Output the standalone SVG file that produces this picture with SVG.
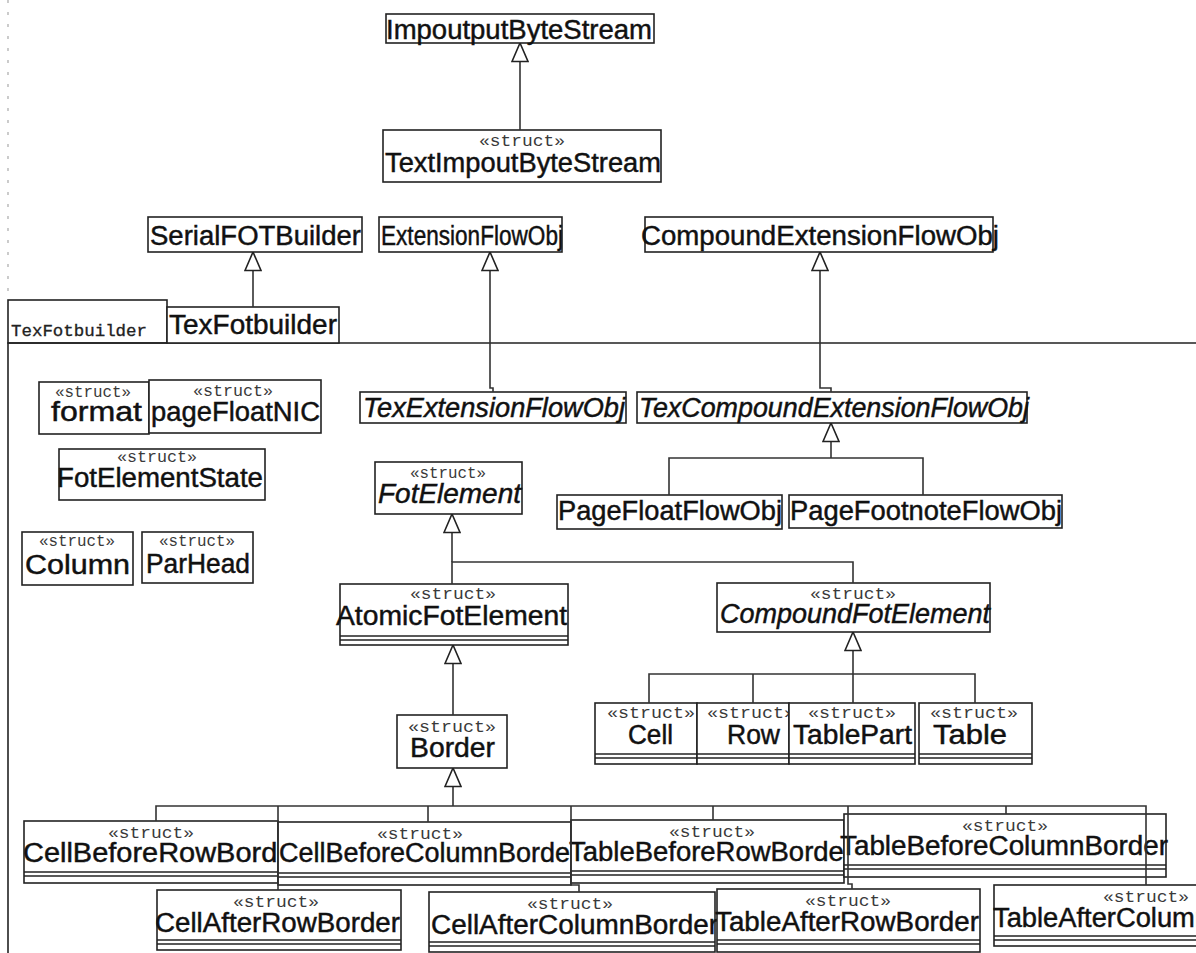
<svg xmlns="http://www.w3.org/2000/svg" width="1196" height="953" viewBox="0 0 1196 953">
  <style>
    .box { fill: #fff; stroke: #222; stroke-width: 1.6; }
    .cmp { stroke: #222; stroke-width: 1.6; }
    .nm { font-family: "Liberation Sans", Arial, sans-serif; font-size: 27px; fill: #111; stroke: #111; stroke-width: 0.45; }
    .it { font-style: italic; }
    .st { font-family: "Liberation Mono", "Courier New", monospace; font-size: 16px; fill: #3a3a3a; text-anchor: middle; }
    .pkg { fill: none; stroke: #222; stroke-width: 1.6; }
    .pkgname { font-family: "Liberation Mono", "Courier New", monospace; font-size: 16px; fill: #222; stroke: #222; stroke-width: 0.3; }
    .edge { fill: none; stroke: #333; stroke-width: 1.6; }
    .gen { fill: none; stroke: #333; stroke-width: 1.6; marker-start: url(#tri); }
  </style>
  <defs>
    <!-- hollow generalization arrowhead, tip on the parent box -->
    <marker id="tri" markerUnits="userSpaceOnUse" viewBox="0 0 20 18" refX="19.5" refY="9" markerWidth="20" markerHeight="18" orient="auto-start-reverse">
      <path d="M1,1 L19.5,9 L1,17 Z" fill="#fff" stroke="#222" stroke-width="1.6"/>
    </marker>
  </defs>

  <rect width="1196" height="953" fill="#fff"/>

  <!-- faint ruler marks along the left margin -->
  <line x1="8" y1="0" x2="8" y2="300" stroke="#aaa" stroke-width="1.2" stroke-dasharray="3 9"/>

  <!-- package TexFotbuilder -->
  <g id="package-TexFotbuilder">
    <rect x="8" y="300" width="159" height="43" fill="#fff" stroke="#222" stroke-width="1.6"/>
    <text class="pkgname" x="11" y="336" textLength="136" lengthAdjust="spacingAndGlyphs">TexFotbuilder</text>
    <path class="pkg" d="M1200,343 L8,343 L8,960"/>
  </g>

  <g id="nodes">
    <g id="ImpoutputByteStream">
      <rect class="box" x="386" y="14" width="268" height="29"/>
      <text class="nm" x="386" y="39" textLength="266" lengthAdjust="spacingAndGlyphs">ImpoutputByteStream</text>
    </g>
    <g id="TextImpoutByteStream">
      <rect class="box" x="383" y="130" width="278" height="52"/>
      <text class="st" x="522" y="146" textLength="86" lengthAdjust="spacingAndGlyphs">«struct»</text>
      <text class="nm" x="385" y="172" textLength="276" lengthAdjust="spacingAndGlyphs">TextImpoutByteStream</text>
    </g>
    <g id="SerialFOTBuilder">
      <rect class="box" x="148" y="217" width="214" height="35"/>
      <text class="nm" x="150" y="245" textLength="211" lengthAdjust="spacingAndGlyphs">SerialFOTBuilder</text>
    </g>
    <g id="ExtensionFlowObj">
      <rect class="box" x="379" y="217" width="183" height="35"/>
      <text class="nm" x="381" y="245" textLength="182" lengthAdjust="spacingAndGlyphs">ExtensionFlowObj</text>
    </g>
    <g id="CompoundExtensionFlowObj">
      <rect class="box" x="645" y="217" width="348" height="35"/>
      <text class="nm" x="641" y="245" textLength="358" lengthAdjust="spacingAndGlyphs">CompoundExtensionFlowObj</text>
    </g>
    <g id="TexFotbuilder">
      <rect class="box" x="167" y="307" width="172" height="36"/>
      <text class="nm" x="169" y="334" textLength="168" lengthAdjust="spacingAndGlyphs">TexFotbuilder</text>
    </g>
    <g id="TexExtensionFlowObj">
      <rect class="box" x="360" y="392" width="266" height="31"/>
      <text class="nm it" x="363" y="417" textLength="262" lengthAdjust="spacingAndGlyphs">TexExtensionFlowObj</text>
    </g>
    <g id="TexCompoundExtensionFlowObj">
      <rect class="box" x="637" y="392" width="390" height="31"/>
      <text class="nm it" x="639" y="417" textLength="390" lengthAdjust="spacingAndGlyphs">TexCompoundExtensionFlowObj</text>
    </g>
    <g id="format">
      <rect class="box" x="39" y="382" width="110" height="52"/>
      <text class="st" x="93" y="397" textLength="76" lengthAdjust="spacingAndGlyphs">«struct»</text>
      <text class="nm" x="51" y="421" textLength="91" lengthAdjust="spacingAndGlyphs">format</text>
    </g>
    <g id="pageFloatNIC">
      <rect class="box" x="149" y="380" width="172" height="53"/>
      <text class="st" x="233" y="396" textLength="80" lengthAdjust="spacingAndGlyphs">«struct»</text>
      <text class="nm" x="151" y="421" textLength="169" lengthAdjust="spacingAndGlyphs">pageFloatNIC</text>
    </g>
    <g id="FotElementState">
      <rect class="box" x="59" y="449" width="206" height="51"/>
      <text class="st" x="157" y="462" textLength="80" lengthAdjust="spacingAndGlyphs">«struct»</text>
      <text class="nm" x="57" y="487" textLength="206" lengthAdjust="spacingAndGlyphs">FotElementState</text>
    </g>
    <g id="Column">
      <rect class="box" x="22" y="532" width="111" height="53"/>
      <text class="st" x="77" y="546" textLength="76" lengthAdjust="spacingAndGlyphs">«struct»</text>
      <text class="nm" x="25" y="574" textLength="105" lengthAdjust="spacingAndGlyphs">Column</text>
    </g>
    <g id="ParHead">
      <rect class="box" x="142" y="532" width="111" height="51"/>
      <text class="st" x="197" y="546" textLength="76" lengthAdjust="spacingAndGlyphs">«struct»</text>
      <text class="nm" x="146" y="573" textLength="104" lengthAdjust="spacingAndGlyphs">ParHead</text>
    </g>
    <g id="FotElement">
      <rect class="box" x="375" y="462" width="147" height="52"/>
      <text class="st" x="448" y="478" textLength="76" lengthAdjust="spacingAndGlyphs">«struct»</text>
      <text class="nm it" x="378" y="503" textLength="143" lengthAdjust="spacingAndGlyphs">FotElement</text>
    </g>
    <g id="PageFloatFlowObj">
      <rect class="box" x="557" y="495" width="225" height="34"/>
      <text class="nm" x="558" y="520" textLength="224" lengthAdjust="spacingAndGlyphs">PageFloatFlowObj</text>
    </g>
    <g id="PageFootnoteFlowObj">
      <rect class="box" x="789" y="495" width="273" height="33"/>
      <text class="nm" x="790" y="520" textLength="272" lengthAdjust="spacingAndGlyphs">PageFootnoteFlowObj</text>
    </g>
    <g id="AtomicFotElement">
      <rect class="box" x="340" y="584" width="228" height="61"/>
      <line class="cmp" x1="340" y1="636" x2="568" y2="636"/>
      <line class="cmp" x1="340" y1="640" x2="568" y2="640"/>
      <text class="st" x="453" y="599" textLength="86" lengthAdjust="spacingAndGlyphs">«struct»</text>
      <text class="nm" x="336" y="625" textLength="231" lengthAdjust="spacingAndGlyphs">AtomicFotElement</text>
    </g>
    <g id="CompoundFotElement">
      <rect class="box" x="717" y="583" width="273" height="49"/>
      <text class="st" x="853" y="599" textLength="86" lengthAdjust="spacingAndGlyphs">«struct»</text>
      <text class="nm it" x="720" y="623" textLength="270" lengthAdjust="spacingAndGlyphs">CompoundFotElement</text>
    </g>
    <g id="Border">
      <rect class="box" x="397" y="715" width="110" height="53"/>
      <text class="st" x="452" y="732" textLength="88" lengthAdjust="spacingAndGlyphs">«struct»</text>
      <text class="nm" x="410" y="757" textLength="85" lengthAdjust="spacingAndGlyphs">Border</text>
    </g>
    <g id="Cell">
      <rect class="box" x="595" y="703" width="102" height="61"/>
      <line class="cmp" x1="595" y1="754" x2="697" y2="754"/>
      <line class="cmp" x1="595" y1="758" x2="697" y2="758"/>
      <text class="st" x="651" y="718" textLength="88" lengthAdjust="spacingAndGlyphs">«struct»</text>
      <text class="nm" x="628" y="744" textLength="45" lengthAdjust="spacingAndGlyphs">Cell</text>
    </g>
    <g id="Row">
      <rect class="box" x="697" y="703" width="92" height="61"/>
      <line class="cmp" x1="697" y1="754" x2="789" y2="754"/>
      <line class="cmp" x1="697" y1="758" x2="789" y2="758"/>
      <text class="st" x="751" y="718" textLength="88" lengthAdjust="spacingAndGlyphs">«struct»</text>
      <text class="nm" x="727" y="744" textLength="53" lengthAdjust="spacingAndGlyphs">Row</text>
    </g>
    <g id="TablePart">
      <rect class="box" x="789" y="703" width="126" height="61"/>
      <line class="cmp" x1="789" y1="754" x2="915" y2="754"/>
      <line class="cmp" x1="789" y1="758" x2="915" y2="758"/>
      <text class="st" x="852" y="718" textLength="88" lengthAdjust="spacingAndGlyphs">«struct»</text>
      <text class="nm" x="793" y="744" textLength="119" lengthAdjust="spacingAndGlyphs">TablePart</text>
    </g>
    <g id="Table">
      <rect class="box" x="919" y="703" width="113" height="61"/>
      <line class="cmp" x1="919" y1="754" x2="1032" y2="754"/>
      <line class="cmp" x1="919" y1="758" x2="1032" y2="758"/>
      <text class="st" x="974" y="718" textLength="88" lengthAdjust="spacingAndGlyphs">«struct»</text>
      <text class="nm" x="933" y="744" textLength="74" lengthAdjust="spacingAndGlyphs">Table</text>
    </g>
    <g id="CellBeforeRowBorder">
      <rect class="box" x="24" y="821" width="254" height="62"/>
      <line class="cmp" x1="24" y1="872" x2="278" y2="872"/>
      <line class="cmp" x1="24" y1="876" x2="278" y2="876"/>
      <text class="st" x="151" y="838" textLength="86" lengthAdjust="spacingAndGlyphs">«struct»</text>
      <text class="nm" x="23" y="862" textLength="280" lengthAdjust="spacingAndGlyphs">CellBeforeRowBorder</text>
    </g>
    <g id="CellBeforeColumnBorder">
      <rect class="box" x="278" y="822" width="293" height="63"/>
      <line class="cmp" x1="278" y1="873" x2="571" y2="873"/>
      <line class="cmp" x1="278" y1="877" x2="571" y2="877"/>
      <text class="st" x="420" y="839" textLength="86" lengthAdjust="spacingAndGlyphs">«struct»</text>
      <text class="nm" x="279" y="862" textLength="300" lengthAdjust="spacingAndGlyphs">CellBeforeColumnBorder</text>
    </g>
    <g id="TableBeforeRowBorder">
      <rect class="box" x="571" y="820" width="273" height="63"/>
      <line class="cmp" x1="571" y1="871" x2="844" y2="871"/>
      <line class="cmp" x1="571" y1="875" x2="844" y2="875"/>
      <text class="st" x="712" y="837" textLength="86" lengthAdjust="spacingAndGlyphs">«struct»</text>
      <text class="nm" x="569" y="861" textLength="284" lengthAdjust="spacingAndGlyphs">TableBeforeRowBorder</text>
    </g>
    <g id="TableBeforeColumnBorder">
      <rect class="box" x="844" y="814" width="322" height="63"/>
      <line class="cmp" x1="844" y1="865" x2="1166" y2="865"/>
      <line class="cmp" x1="844" y1="869" x2="1166" y2="869"/>
      <text class="st" x="1005" y="831" textLength="86" lengthAdjust="spacingAndGlyphs">«struct»</text>
      <text class="nm" x="840" y="855" textLength="328" lengthAdjust="spacingAndGlyphs">TableBeforeColumnBorder</text>
    </g>
    <g id="CellAfterRowBorder">
      <rect class="box" x="157" y="890" width="244" height="60"/>
      <line class="cmp" x1="157" y1="940" x2="401" y2="940"/>
      <line class="cmp" x1="157" y1="944" x2="401" y2="944"/>
      <text class="st" x="276" y="907" textLength="86" lengthAdjust="spacingAndGlyphs">«struct»</text>
      <text class="nm" x="155" y="932" textLength="245" lengthAdjust="spacingAndGlyphs">CellAfterRowBorder</text>
    </g>
    <g id="CellAfterColumnBorder">
      <rect class="box" x="429" y="892" width="286" height="60"/>
      <line class="cmp" x1="429" y1="942" x2="715" y2="942"/>
      <line class="cmp" x1="429" y1="946" x2="715" y2="946"/>
      <text class="st" x="570" y="909" textLength="86" lengthAdjust="spacingAndGlyphs">«struct»</text>
      <text class="nm" x="431" y="934" textLength="287" lengthAdjust="spacingAndGlyphs">CellAfterColumnBorder</text>
    </g>
    <g id="TableAfterRowBorder">
      <rect class="box" x="717" y="889" width="263" height="63"/>
      <line class="cmp" x1="717" y1="940" x2="980" y2="940"/>
      <line class="cmp" x1="717" y1="944" x2="980" y2="944"/>
      <text class="st" x="848" y="906" textLength="86" lengthAdjust="spacingAndGlyphs">«struct»</text>
      <text class="nm" x="715" y="931" textLength="264" lengthAdjust="spacingAndGlyphs">TableAfterRowBorder</text>
    </g>
    <g id="TableAfterColumnBorder">
      <rect class="box" x="994" y="885" width="304" height="61"/>
      <line class="cmp" x1="994" y1="936" x2="1298" y2="936"/>
      <line class="cmp" x1="994" y1="940" x2="1298" y2="940"/>
      <text class="st" x="1146" y="902" textLength="86" lengthAdjust="spacingAndGlyphs">«struct»</text>
      <text class="nm" x="993" y="927" textLength="299" lengthAdjust="spacingAndGlyphs">TableAfterColumnBorder</text>
    </g>
  </g>

  <g id="connectors">
    <!-- single inheritance links -->
    <path class="gen" d="M520,43 L520,130"/>
    <path class="gen" d="M253,252 L253,307"/>
    <path class="gen" d="M490,252 L490,388 L493,388 L493,392"/>
    <path class="gen" d="M820,252 L820,388 L831,388 L831,392"/>
    <path class="gen" d="M453,645 L453,715"/>

    <!-- TexCompoundExtensionFlowObj tree -->
    <path class="gen" d="M831,423 L831,458"/>
    <path class="edge" d="M669,495 L669,458 L923,458 L923,495"/>

    <!-- FotElement tree -->
    <path class="gen" d="M452,514 L452,562"/>
    <path class="edge" d="M452,584 L452,562 L853,562 L853,583"/>

    <!-- CompoundFotElement tree -->
    <path class="gen" d="M853,632 L853,674"/>
    <path class="edge" d="M649,703 L649,674 L975,674 L975,703 M753,674 L753,703 M853,674 L853,703"/>

    <!-- Border tree -->
    <path class="gen" d="M453,768 L453,806"/>
    <path class="edge" d="M156,821 L156,806 L1146,806 L1146,885
                          M278,806 L278,890
                          M428,806 L428,822
                          M571,806 L571,885 L579,885 L579,892
                          M713,806 L713,820
                          M848,806 L848,884 L852,884 L852,889
                          M1006,806 L1006,814"/>
  </g>
</svg>
